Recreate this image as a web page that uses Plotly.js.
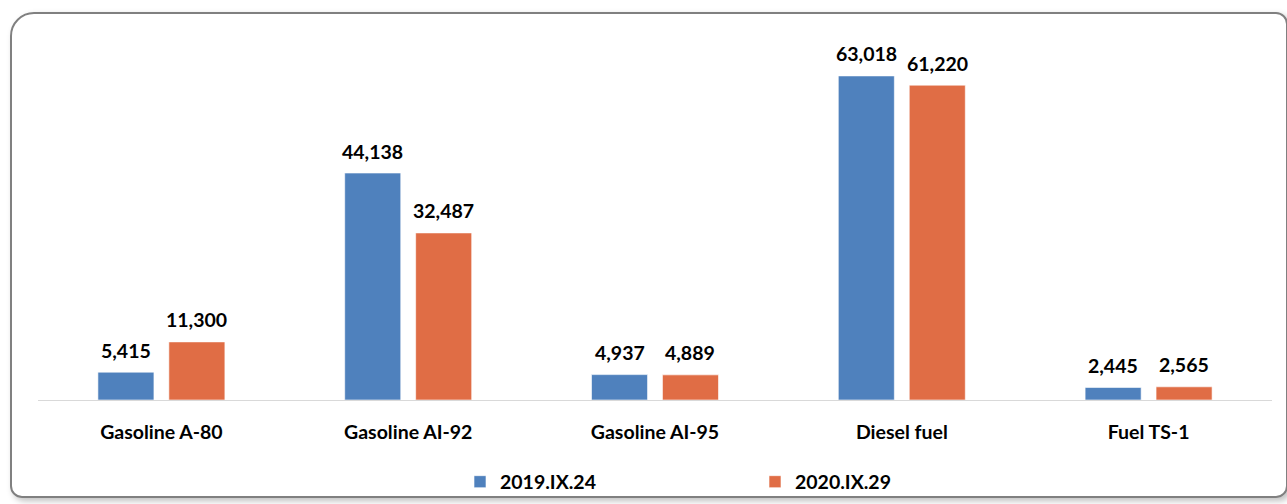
<!DOCTYPE html>
<html>
<head>
<meta charset="utf-8">
<script src="https://cdn.plot.ly/plotly-3.0.1.min.js"></script>
<style>
  html, body { margin: 0; padding: 0; background: #fff; }
  #wrap { position: relative; width: 1287px; height: 504px; overflow: hidden; }
  #chart { position: absolute; left: 0; top: 0; width: 1287px; height: 504px; }
  #frame {
    position: absolute; left: 10px; top: 12px; width: 1274px; height: 482px;
    border: 2px solid #808080; border-radius: 24px 12px 12px 12px;
    box-shadow: 3px 3px 6px rgba(0,0,0,0.25);
    pointer-events: none;
  }
</style>
</head>
<body>
<div id="wrap">
  <div id="frame"></div>
  <div id="chart"></div>
</div>
<script>
const categories = ["Gasoline A-80", "Gasoline AI-92", "Gasoline AI-95", "Diesel fuel", "Fuel TS-1"];
const seriesNames = ["2019.IX.24", "2020.IX.29"];
const values2019 = [5415, 44138, 4937, 63018, 2445];
const values2020 = [11300, 32487, 4889, 61220, 2565];
const colors = ["#4F81BD", "#E06D45"];

const W = 1287, H = 504;
const margin = {l: 38, r: 15, t: 40, b: 104, autoexpand: false};
const bargap = 0.425, bargroupgap = 0.21;
const plotW = W - margin.l - margin.r;
const slot = plotW / categories.length * (1 - bargap) / 2;
const font = "Lato, 'Open Sans', sans-serif";
const fs = 19.5;

const seriesValues = [values2019, values2020];
const traces = seriesValues.map((vals, i) => ({
  type: "bar",
  name: seriesNames[i],
  x: categories,
  y: vals,
  marker: {color: colors[i], line: {color: "rgba(255,255,255,0.6)", width: 1}},
  hoverinfo: "x+y+name"
}));

const annotations = [];
seriesValues.forEach((vals, i) => {
  vals.forEach((v, j) => {
    annotations.push({
      x: categories[j], y: v, xref: "x", yref: "y",
      text: "<b>" + v.toLocaleString("en-US") + "</b>",
      showarrow: false, yanchor: "bottom",
      xshift: (i === 0 ? -1 : 1) * slot / 2,
      yshift: 8.5,
      font: {family: font, size: fs, color: "#000"}
    });
  });
});

const layout = {
  width: W, height: H,
  margin: margin,
  paper_bgcolor: "rgba(0,0,0,0)",
  plot_bgcolor: "rgba(0,0,0,0)",
  barmode: "group",
  bargap: bargap,
  bargroupgap: bargroupgap,
  font: {family: font, size: fs, color: "#000"},
  xaxis: {
    showline: true, linecolor: "#d9d9d9", linewidth: 1,
    ticks: "", tickfont: {family: font, size: fs, color: "#000", weight: "bold"},
    ticklabelstandoff: 15,
    fixedrange: true
  },
  yaxis: {
    range: [0, 70000], visible: false, showgrid: false, zeroline: false, fixedrange: true
  },
  showlegend: true,
  legend: {
    orientation: "h",
    x: (460 - margin.l) / plotW, xanchor: "left",
    y: (400 - 482) / 360, yanchor: "middle",
    font: {family: font, size: fs, color: "#000", weight: "bold"},
    entrywidth: 250, entrywidthmode: "pixels",
    bgcolor: "rgba(0,0,0,0)"
  },
  annotations: annotations
};

Plotly.newPlot("chart", traces, layout, {displayModeBar: false, staticPlot: true});
</script>
</body>
</html>
